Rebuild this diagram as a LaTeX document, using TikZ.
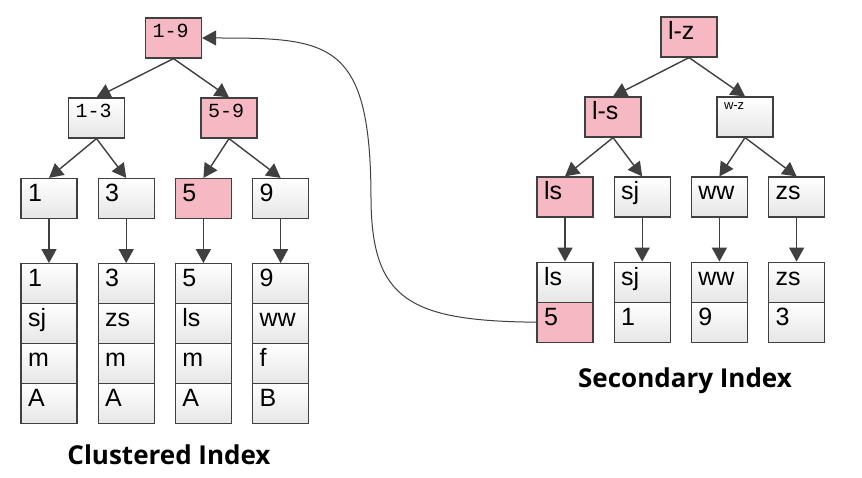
\documentclass[tikz,border=0pt]{standalone}
\usepackage{fontspec}
\setmainfont{Liberation Sans}
\newfontfamily\keyfont{Liberation Mono}
\newfontfamily\titlefont{Open Sans}
\usetikzlibrary{positioning,arrows.meta}
\definecolor{linegray}{RGB}{64,64,64}
\definecolor{hitpink}{RGB}{246,184,195}
\definecolor{cellgray}{RGB}{230,230,230}
\tikzset{
  cell/.style={draw=linegray, line width=1.2pt, minimum width=56pt, inner xsep=7pt, inner ysep=0pt,
    text width=42pt, align=left, text height=23pt, text depth=17pt, font=\fontsize{25}{25}\selectfont},
  plain/.style={cell, top color=white, bottom color=cellgray},
  hit/.style={cell, fill=hitpink},
  keytext/.style={font=\keyfont\fontsize{20}{20}\selectfont, text height=20pt, text depth=20pt},
  link/.style={draw=linegray, line width=1.4pt, -{Triangle[width=15pt,length=14pt]}},
  title/.style={font=\titlefont\bfseries\fontsize{26}{26}\selectfont, anchor=base}
}
\begin{document}
\begin{tikzpicture}[x=1pt, y=-1pt]
    \useasboundingbox (0,0) rectangle (862,478);
    \fill[white] (0,0) rectangle (862,478);

    % clustered index
    \node[hit, keytext] (k19) at (173.5,38) {1-9};
    \node[plain, keytext] (k13) at (96.5,118) {1-3};
    \node[hit, keytext] (k59) at (229,118) {5-9};
    \node[plain] (p1) at (49,198.5) {1};
    \node[plain] (p3) [right=20pt of p1] {3};
    \node[hit] (p5) [right=20pt of p3] {5};
    \node[plain] (p9) [right=20pt of p5] {9};

    \node[plain] (d1a) [below=44pt of p1] {1};
    \node[plain] (d1b) [below=-1.2pt of d1a] {sj};
    \node[plain] (d1c) [below=-1.2pt of d1b] {m};
    \node[plain] (d1d) [below=-1.2pt of d1c] {A};
    \node[plain] (d3a) [below=44pt of p3] {3};
    \node[plain] (d3b) [below=-1.2pt of d3a] {zs};
    \node[plain] (d3c) [below=-1.2pt of d3b] {m};
    \node[plain] (d3d) [below=-1.2pt of d3c] {A};
    \node[plain] (d5a) [below=44pt of p5] {5};
    \node[plain] (d5b) [below=-1.2pt of d5a] {ls};
    \node[plain] (d5c) [below=-1.2pt of d5b] {m};
    \node[plain] (d5d) [below=-1.2pt of d5c] {A};
    \node[plain] (d9a) [below=44pt of p9] {9};
    \node[plain] (d9b) [below=-1.2pt of d9a] {ww};
    \node[plain] (d9c) [below=-1.2pt of d9b] {f};
    \node[plain] (d9d) [below=-1.2pt of d9c] {B};

    \draw[link] (k19.south) -- (k13.north);
    \draw[link] (k19.south) -- (k59.north);
    \draw[link] (k13.south) -- (p1.north);
    \draw[link] (k13.south) -- (p3.north);
    \draw[link] (k59.south) -- (p5.north);
    \draw[link] (k59.south) -- (p9.north);
    \draw[link] (p1.south) -- (d1a.north);
    \draw[link] (p3.south) -- (d3a.north);
    \draw[link] (p5.south) -- (d5a.north);
    \draw[link] (p9.south) -- (d9a.north);

    % secondary index
    \node[hit] (slz) at (689,37) {l-z};
    \node[hit] (sls) at (613,117) {l-s};
    \node[plain, font=\fontsize{13}{13}\selectfont, text height=13pt, text depth=27pt] (swz) at (745,117) {w-z};
    \node[hit] (tls) at (565,197) {ls};
    \node[plain] (tsj) [right=20pt of tls] {sj};
    \node[plain] (tww) [right=20pt of tsj] {ww};
    \node[plain] (tzs) [right=20pt of tww] {zs};

    \node[plain] (els) [below=44pt of tls] {ls};
    \node[hit] (e5) [below=-1.2pt of els] {5};
    \node[plain] (esj) [below=44pt of tsj] {sj};
    \node[plain] (e1) [below=-1.2pt of esj] {1};
    \node[plain] (eww) [below=44pt of tww] {ww};
    \node[plain] (e9) [below=-1.2pt of eww] {9};
    \node[plain] (ezs) [below=44pt of tzs] {zs};
    \node[plain] (e3) [below=-1.2pt of ezs] {3};

    \draw[link] (slz.south) -- (sls.north);
    \draw[link] (slz.south) -- (swz.north);
    \draw[link] (sls.south) -- (tls.north);
    \draw[link] (sls.south) -- (tsj.north);
    \draw[link] (swz.south) -- (tww.north);
    \draw[link] (swz.south) -- (tzs.north);
    \draw[link] (tls.south) -- (els.north);
    \draw[link] (tsj.south) -- (esj.north);
    \draw[link] (tww.south) -- (eww.north);
    \draw[link] (tzs.south) -- (ezs.north);

    % back to the primary key
    \coordinate (bend) at (371,200);
    \draw[link, line width=1pt] (e5.west) .. controls (410,321) and (372,300) .. (bend)
        .. controls (371,40) and (330,38) .. (k19.east);

    \node[title] (ctitle) at (169,464) {Clustered Index};
    \node[title] (stitle) at (685,387) {Secondary Index};
\end{tikzpicture}
\end{document}
